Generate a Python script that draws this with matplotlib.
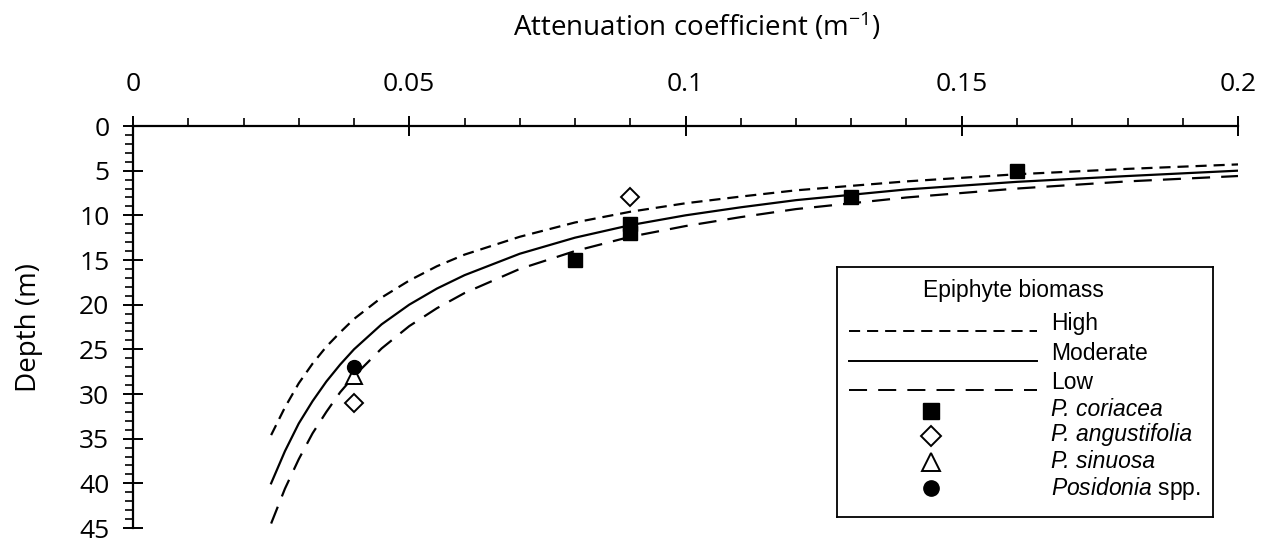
import matplotlib
matplotlib.use("Agg")
import matplotlib.pyplot as plt
from matplotlib.ticker import MultipleLocator, FuncFormatter

# ---- data ----
k_curve = [0.025, 0.0275, 0.03, 0.0325, 0.035, 0.0375, 0.04, 0.045, 0.05, 0.055,
           0.06, 0.07, 0.08, 0.09, 0.10, 0.11, 0.12, 0.14, 0.16, 0.18, 0.20]
z_high = [34.6, 31.5, 28.8, 26.6, 24.7, 23.1, 21.6, 19.2, 17.3, 15.7,
          14.4, 12.4, 10.8, 9.6, 8.65, 7.9, 7.2, 6.2, 5.4, 4.8, 4.3]
z_moderate = [40.0, 36.4, 33.3, 30.8, 28.6, 26.7, 25.0, 22.2, 20.0, 18.2,
              16.7, 14.3, 12.5, 11.1, 10.0, 9.1, 8.3, 7.1, 6.25, 5.6, 5.0]
z_low = [44.5, 40.6, 37.3, 34.4, 32.0, 29.8, 28.0, 24.9, 22.4, 20.4,
         18.7, 16.0, 14.0, 12.4, 11.2, 10.2, 9.3, 8.0, 7.0, 6.2, 5.6]

coriacea_k = [0.16, 0.13, 0.09, 0.09, 0.08]
coriacea_z = [5, 8, 11, 12, 15]
angustifolia_k = [0.09, 0.04]
angustifolia_z = [8, 31]
sinuosa_k = [0.04]
sinuosa_z = [28]
posidonia_k = [0.04]
posidonia_z = [27]

plt.rcParams["lines.scale_dashes"] = False
plt.rcParams["mathtext.fontset"] = "custom"
plt.rcParams["mathtext.rm"] = "Open Sans"
plt.rcParams["mathtext.it"] = "Liberation Sans:italic"

W, H = 1268, 542
fig = plt.figure(figsize=(W / 100, H / 100), dpi=100)

# axes box in pixel terms
x0, x1, y0, y1 = 133, 1238, 126, 528
ax = fig.add_axes([x0 / W, 1 - y1 / H, (x1 - x0) / W, (y1 - y0) / H])

ax.plot(k_curve, z_high, color="black", lw=1.6, dashes=(8, 5))
ax.plot(k_curve, z_moderate, color="black", lw=1.6)
ax.plot(k_curve, z_low, color="black", lw=1.6, dashes=(13, 8))

ax.plot(coriacea_k, coriacea_z, "s", color="black", ms=10, zorder=5)
ax.plot(angustifolia_k, angustifolia_z, "D", mfc="white", mec="black", ms=9, mew=1.4, zorder=5)
ax.plot(sinuosa_k, sinuosa_z, "^", mfc="white", mec="black", ms=12, mew=1.4, zorder=5)
ax.plot(posidonia_k, posidonia_z, "o", color="black", ms=10, zorder=6)

ax.set_xlim(0, 0.2)
ax.set_ylim(45, 0)
ax.xaxis.tick_top()
ax.xaxis.set_label_position("top")
ax.xaxis.set_major_locator(MultipleLocator(0.05))
ax.xaxis.set_minor_locator(MultipleLocator(0.01))
ax.yaxis.set_major_locator(MultipleLocator(5))
ax.yaxis.set_minor_locator(MultipleLocator(1))
ax.xaxis.set_major_formatter(FuncFormatter(lambda v, p: f"{v:g}"))

for s in ["right", "bottom"]:
    ax.spines[s].set_visible(False)
for s in ["top", "left"]:
    ax.spines[s].set_linewidth(1.6)

ax.tick_params(which="major", direction="inout", length=14, width=1.4)
ax.tick_params(which="minor", direction="out", length=6, width=1.2)
ax.tick_params(axis="x", which="major", pad=14, labelsize=19)
ax.tick_params(axis="y", which="major", pad=10, labelsize=19)
for lab in ax.get_xticklabels() + ax.get_yticklabels():
    lab.set_family("Open Sans")

ax.set_xlabel("Attenuation coefficient (m$^{-1}$)", family="Open Sans", fontsize=20, labelpad=26)
ax.set_ylabel("Depth (m)", family="Open Sans", fontsize=20, labelpad=26)
ax.xaxis.label.set_x(0.51)

# ---- legend box (pixel-coordinate inset) ----
lx0, lx1, ly0, ly1 = 837, 1213, 267, 517
lg = fig.add_axes([lx0 / W, 1 - ly1 / H, (lx1 - lx0) / W, (ly1 - ly0) / H])
lg.set_xlim(lx0, lx1)
lg.set_ylim(ly1, ly0)
lg.set_xticks([])
lg.set_yticks([])
for s in lg.spines.values():
    s.set_linewidth(1.3)

ff = "Liberation Sans"
fs = 16.5
lg.text(1013, 291, "Epiphyte biomass", ha="center", va="center", family=ff, fontsize=fs)
tx = 1051
rows = [("High", 324, (8, 5)), ("Moderate", 354, None), ("Low", 383, (13, 8))]
for name, yy, dsh in rows:
    lg.text(tx, yy, name, ha="left", va="center", family=ff, fontsize=fs)
    if dsh:
        lg.plot([849, 1037], [yy + 7, yy + 7], color="black", lw=1.4, dashes=dsh)
    else:
        lg.plot([849, 1037], [yy + 7, yy + 7], color="black", lw=1.4)

mx = 931
lg.plot([mx], [411], "s", color="black", ms=12)
lg.plot([mx], [436], "D", mfc="white", mec="black", ms=10, mew=1.4)
lg.plot([mx], [462], "^", mfc="white", mec="black", ms=13, mew=1.4)
lg.plot([mx], [488], "o", color="black", ms=11)
lg.text(tx, 410, "P. coriacea", ha="left", va="center", family=ff, fontsize=fs, style="italic")
lg.text(tx, 435, "P. angustifolia", ha="left", va="center", family=ff, fontsize=fs, style="italic")
lg.text(tx, 461, "P. sinuosa", ha="left", va="center", family=ff, fontsize=fs, style="italic")
lg.text(tx, 488, r"$\it{Posidonia}$ spp.", ha="left", va="center", family=ff, fontsize=fs)

fig.savefig("out.png", dpi=100)
